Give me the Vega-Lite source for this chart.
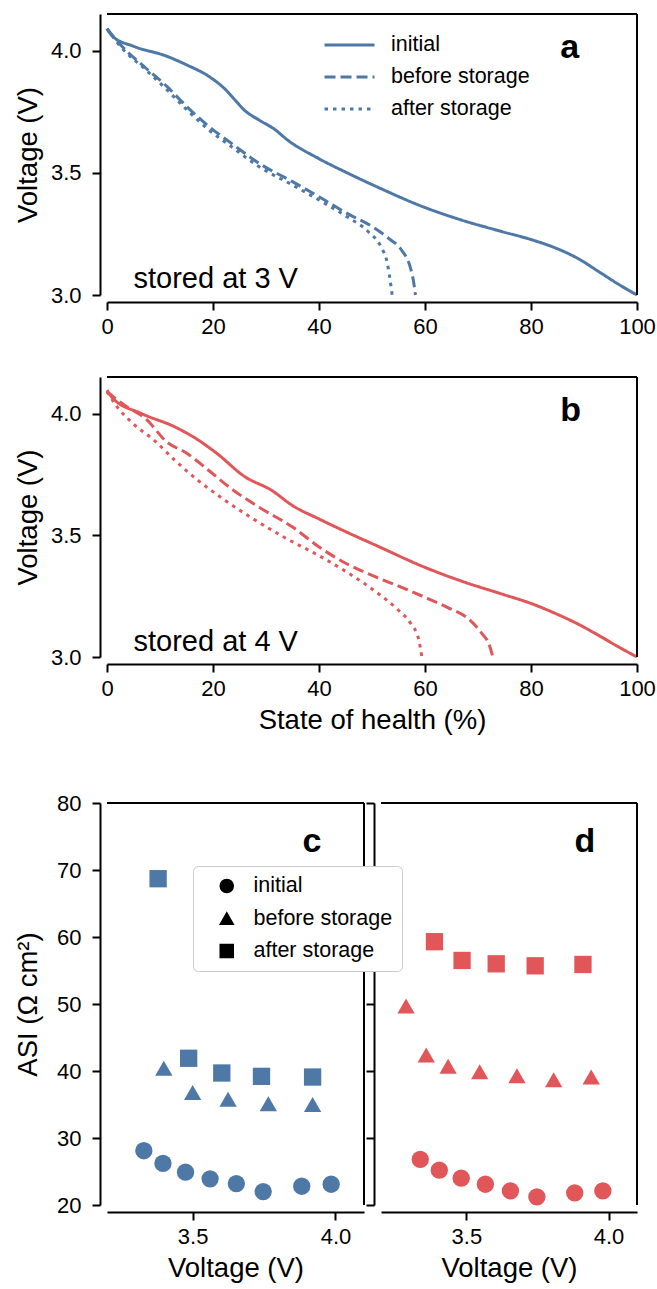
{
  "$schema": "https://vega.github.io/schema/vega-lite/v6.json",
  "padding": {"left": 14, "top": 13, "right": 1, "bottom": 4},
  "config": {
    "font": "Liberation Sans",
    "view": {"stroke": null},
    "axis": {"domainColor": "black", "domainWidth": 2, "tickColor": "black", "tickWidth": 2, "tickSize": 8, "labelFontSize": 22, "labelColor": "black", "labelFlush": false, "labelOverlap": false, "titleFontSize": 27.5, "titleFontWeight": "normal", "titleColor": "black", "grid": false, "offset": 7},
    "axisX": {"labelPadding": 6, "titlePadding": 7},
    "axisY": {"labelPadding": 11, "titlePadding": 8},
    "legend": {"labelFontSize": 21.5, "labelColor": "black", "title": null}
  },
  "datasets": {
    "a": [
      {"soh": 0, "v": 4.09, "cond": "initial"}, {"soh": 1, "v": 4.06, "cond": "initial"}, {"soh": 5, "v": 4.018, "cond": "initial"}, {"soh": 11.3, "v": 3.977, "cond": "initial"}, {"soh": 15.2, "v": 3.94, "cond": "initial"}, {"soh": 19.2, "v": 3.895, "cond": "initial"}, {"soh": 22.3, "v": 3.842, "cond": "initial"}, {"soh": 24.2, "v": 3.797, "cond": "initial"}, {"soh": 26, "v": 3.755, "cond": "initial"}, {"soh": 28.7, "v": 3.716, "cond": "initial"}, {"soh": 31.5, "v": 3.68, "cond": "initial"}, {"soh": 34.2, "v": 3.632, "cond": "initial"}, {"soh": 39.8, "v": 3.56, "cond": "initial"}, {"soh": 45.3, "v": 3.5, "cond": "initial"}, {"soh": 50.9, "v": 3.443, "cond": "initial"}, {"soh": 60, "v": 3.358, "cond": "initial"}, {"soh": 66.7, "v": 3.308, "cond": "initial"}, {"soh": 74.6, "v": 3.259, "cond": "initial"}, {"soh": 80, "v": 3.227, "cond": "initial"}, {"soh": 84.9, "v": 3.19, "cond": "initial"}, {"soh": 88.9, "v": 3.149, "cond": "initial"}, {"soh": 92.9, "v": 3.094, "cond": "initial"}, {"soh": 96.8, "v": 3.04, "cond": "initial"}, {"soh": 100, "v": 3.0, "cond": "initial"},
      {"soh": 0, "v": 4.09, "cond": "before storage"}, {"soh": 2.5, "v": 4.025, "cond": "before storage"}, {"soh": 7.3, "v": 3.929, "cond": "before storage"}, {"soh": 11.3, "v": 3.854, "cond": "before storage"}, {"soh": 14.4, "v": 3.785, "cond": "before storage"}, {"soh": 19.2, "v": 3.69, "cond": "before storage"}, {"soh": 23.9, "v": 3.614, "cond": "before storage"}, {"soh": 28.7, "v": 3.539, "cond": "before storage"}, {"soh": 35, "v": 3.464, "cond": "before storage"}, {"soh": 40, "v": 3.402, "cond": "before storage"}, {"soh": 45.3, "v": 3.334, "cond": "before storage"}, {"soh": 50.1, "v": 3.279, "cond": "before storage"}, {"soh": 53.2, "v": 3.231, "cond": "before storage"}, {"soh": 55.6, "v": 3.183, "cond": "before storage"}, {"soh": 57.2, "v": 3.115, "cond": "before storage"}, {"soh": 57.8, "v": 3.06, "cond": "before storage"}, {"soh": 58.2, "v": 3.0, "cond": "before storage"},
      {"soh": 0, "v": 4.09, "cond": "after storage"}, {"soh": 2.5, "v": 4.018, "cond": "after storage"}, {"soh": 7.3, "v": 3.922, "cond": "after storage"}, {"soh": 11.3, "v": 3.84, "cond": "after storage"}, {"soh": 14.4, "v": 3.772, "cond": "after storage"}, {"soh": 19.2, "v": 3.676, "cond": "after storage"}, {"soh": 23.9, "v": 3.6, "cond": "after storage"}, {"soh": 28.7, "v": 3.525, "cond": "after storage"}, {"soh": 35, "v": 3.45, "cond": "after storage"}, {"soh": 40, "v": 3.389, "cond": "after storage"}, {"soh": 45.3, "v": 3.32, "cond": "after storage"}, {"soh": 49.3, "v": 3.259, "cond": "after storage"}, {"soh": 51.7, "v": 3.197, "cond": "after storage"}, {"soh": 52.9, "v": 3.129, "cond": "after storage"}, {"soh": 53.6, "v": 3.033, "cond": "after storage"}, {"soh": 53.8, "v": 3.0, "cond": "after storage"}
    ],
    "b": [
      {"soh": 0, "v": 4.096, "cond": "initial"}, {"soh": 1, "v": 4.065, "cond": "initial"}, {"soh": 6.5, "v": 4.0, "cond": "initial"}, {"soh": 12.8, "v": 3.945, "cond": "initial"}, {"soh": 16.8, "v": 3.897, "cond": "initial"}, {"soh": 20.8, "v": 3.835, "cond": "initial"}, {"soh": 25.9, "v": 3.742, "cond": "initial"}, {"soh": 31.1, "v": 3.684, "cond": "initial"}, {"soh": 35, "v": 3.622, "cond": "initial"}, {"soh": 40, "v": 3.567, "cond": "initial"}, {"soh": 45.3, "v": 3.512, "cond": "initial"}, {"soh": 50.9, "v": 3.457, "cond": "initial"}, {"soh": 60, "v": 3.368, "cond": "initial"}, {"soh": 66.7, "v": 3.313, "cond": "initial"}, {"soh": 74.6, "v": 3.258, "cond": "initial"}, {"soh": 80, "v": 3.22, "cond": "initial"}, {"soh": 84.9, "v": 3.176, "cond": "initial"}, {"soh": 88.9, "v": 3.135, "cond": "initial"}, {"soh": 92.9, "v": 3.087, "cond": "initial"}, {"soh": 96.8, "v": 3.038, "cond": "initial"}, {"soh": 100, "v": 3.0, "cond": "initial"},
      {"soh": 0, "v": 4.09, "cond": "before storage"}, {"soh": 3.3, "v": 4.034, "cond": "before storage"}, {"soh": 7.3, "v": 3.979, "cond": "before storage"}, {"soh": 11.3, "v": 3.883, "cond": "before storage"}, {"soh": 15.2, "v": 3.835, "cond": "before storage"}, {"soh": 19.2, "v": 3.766, "cond": "before storage"}, {"soh": 23.9, "v": 3.684, "cond": "before storage"}, {"soh": 28.7, "v": 3.615, "cond": "before storage"}, {"soh": 35, "v": 3.534, "cond": "before storage"}, {"soh": 40, "v": 3.452, "cond": "before storage"}, {"soh": 45.3, "v": 3.382, "cond": "before storage"}, {"soh": 50.9, "v": 3.327, "cond": "before storage"}, {"soh": 55.6, "v": 3.286, "cond": "before storage"}, {"soh": 60, "v": 3.245, "cond": "before storage"}, {"soh": 64.3, "v": 3.203, "cond": "before storage"}, {"soh": 68.3, "v": 3.155, "cond": "before storage"}, {"soh": 70.6, "v": 3.1, "cond": "before storage"}, {"soh": 72.2, "v": 3.045, "cond": "before storage"}, {"soh": 72.8, "v": 3.0, "cond": "before storage"},
      {"soh": 0, "v": 4.09, "cond": "after storage"}, {"soh": 1.7, "v": 4.034, "cond": "after storage"}, {"soh": 4.9, "v": 3.959, "cond": "after storage"}, {"soh": 8.9, "v": 3.89, "cond": "after storage"}, {"soh": 12.8, "v": 3.808, "cond": "after storage"}, {"soh": 17.6, "v": 3.718, "cond": "after storage"}, {"soh": 22.3, "v": 3.643, "cond": "after storage"}, {"soh": 27.1, "v": 3.574, "cond": "after storage"}, {"soh": 33.4, "v": 3.492, "cond": "after storage"}, {"soh": 40, "v": 3.416, "cond": "after storage"}, {"soh": 45.3, "v": 3.348, "cond": "after storage"}, {"soh": 50.9, "v": 3.265, "cond": "after storage"}, {"soh": 54.8, "v": 3.196, "cond": "after storage"}, {"soh": 57.2, "v": 3.141, "cond": "after storage"}, {"soh": 58.8, "v": 3.073, "cond": "after storage"}, {"soh": 59.4, "v": 3.0, "cond": "after storage"}
    ],
    "c": [
      {"volt": 3.329, "asi": 28.1, "cond": "initial"}, {"volt": 3.396, "asi": 26.2, "cond": "initial"}, {"volt": 3.475, "asi": 24.9, "cond": "initial"}, {"volt": 3.561, "asi": 23.9, "cond": "initial"}, {"volt": 3.653, "asi": 23.2, "cond": "initial"}, {"volt": 3.747, "asi": 22.0, "cond": "initial"}, {"volt": 3.882, "asi": 22.8, "cond": "initial"}, {"volt": 3.985, "asi": 23.1, "cond": "initial"},
      {"volt": 3.399, "asi": 40.4, "cond": "before storage"}, {"volt": 3.5, "asi": 36.8, "cond": "before storage"}, {"volt": 3.624, "asi": 35.8, "cond": "before storage"}, {"volt": 3.765, "asi": 35.1, "cond": "before storage"}, {"volt": 3.92, "asi": 35.0, "cond": "before storage"},
      {"volt": 3.379, "asi": 68.7, "cond": "after storage"}, {"volt": 3.486, "asi": 41.9, "cond": "after storage"}, {"volt": 3.602, "asi": 39.7, "cond": "after storage"}, {"volt": 3.741, "asi": 39.2, "cond": "after storage"}, {"volt": 3.92, "asi": 39.1, "cond": "after storage"}
    ],
    "d": [
      {"volt": 3.338, "asi": 26.8, "cond": "initial"}, {"volt": 3.405, "asi": 25.2, "cond": "initial"}, {"volt": 3.482, "asi": 24.0, "cond": "initial"}, {"volt": 3.567, "asi": 23.1, "cond": "initial"}, {"volt": 3.655, "asi": 22.1, "cond": "initial"}, {"volt": 3.748, "asi": 21.2, "cond": "initial"}, {"volt": 3.881, "asi": 21.8, "cond": "initial"}, {"volt": 3.98, "asi": 22.1, "cond": "initial"},
      {"volt": 3.288, "asi": 49.7, "cond": "before storage"}, {"volt": 3.359, "asi": 42.4, "cond": "before storage"}, {"volt": 3.436, "asi": 40.7, "cond": "before storage"}, {"volt": 3.547, "asi": 39.9, "cond": "before storage"}, {"volt": 3.678, "asi": 39.3, "cond": "before storage"}, {"volt": 3.807, "asi": 38.7, "cond": "before storage"}, {"volt": 3.939, "asi": 39.1, "cond": "before storage"},
      {"volt": 3.388, "asi": 59.3, "cond": "after storage"}, {"volt": 3.485, "asi": 56.5, "cond": "after storage"}, {"volt": 3.605, "asi": 56.0, "cond": "after storage"}, {"volt": 3.742, "asi": 55.7, "cond": "after storage"}, {"volt": 3.91, "asi": 55.9, "cond": "after storage"}
    ]
  },
  "spacing": 58,
  "vconcat": [
    {
      "spacing": 39,
      "resolve": {"legend": {"strokeDash": "independent"}},
      "vconcat": [
        {
          "width": 530, "height": 281,
          "layer": [
            {
              "data": {"name": "a"},
              "mark": {"type": "line", "color": "#4e79a7", "strokeWidth": 3, "interpolate": "monotone"},
              "encoding": {
                "x": {"field": "soh", "type": "quantitative", "scale": {"domain": [0, 100], "nice": false}, "axis": {"values": [0, 20, 40, 60, 80, 100], "title": null}},
                "y": {"field": "v", "type": "quantitative", "scale": {"domain": [3.0, 4.15], "nice": false, "zero": false}, "axis": {"values": [3.0, 3.5, 4.0], "format": ".1f", "title": "Voltage (V)", "minExtent": 50, "maxExtent": 50}},
                "strokeDash": {"field": "cond", "type": "nominal", "scale": {"domain": ["initial", "before storage", "after storage"], "range": [[1, 0], [11, 5], [3.5, 5]]},
                  "legend": {"orient": "none", "legendX": 216, "legendY": 20, "symbolType": "stroke", "symbolSize": 2500, "symbolStrokeWidth": 3, "labelOffset": 15, "clipHeight": 22, "rowPadding": 10, "padding": 0}}
              }
            },
            {"data": {"values": [{}]}, "mark": {"type": "rule", "color": "black", "strokeWidth": 2}, "encoding": {"y": {"datum": 4.15}}},
            {"data": {"values": [{}]}, "mark": {"type": "rule", "color": "black", "strokeWidth": 2}, "encoding": {"x": {"datum": 100}}},
            {"data": {"values": [{}]}, "mark": {"type": "text", "text": "a", "fontSize": 34, "fontWeight": "bold", "align": "center", "baseline": "alphabetic"}, "encoding": {"x": {"datum": 87.3}, "y": {"datum": 3.97}}},
            {"data": {"values": [{}]}, "mark": {"type": "text", "text": "stored at 3 V", "fontSize": 29, "align": "left", "baseline": "alphabetic"}, "encoding": {"x": {"datum": 5}, "y": {"datum": 3.028}}}
          ]
        },
        {
          "width": 530, "height": 280,
          "layer": [
            {
              "data": {"name": "b"},
              "mark": {"type": "line", "color": "#e15759", "strokeWidth": 3, "interpolate": "monotone"},
              "encoding": {
                "x": {"field": "soh", "type": "quantitative", "scale": {"domain": [0, 100], "nice": false}, "axis": {"values": [0, 20, 40, 60, 80, 100], "title": "State of health (%)"}},
                "y": {"field": "v", "type": "quantitative", "scale": {"domain": [3.0, 4.15], "nice": false, "zero": false}, "axis": {"values": [3.0, 3.5, 4.0], "format": ".1f", "title": "Voltage (V)", "minExtent": 50, "maxExtent": 50}},
                "strokeDash": {"field": "cond", "type": "nominal", "scale": {"domain": ["initial", "before storage", "after storage"], "range": [[1, 0], [11, 5], [3.5, 5]]}, "legend": null}
              }
            },
            {"data": {"values": [{}]}, "mark": {"type": "rule", "color": "black", "strokeWidth": 2}, "encoding": {"y": {"datum": 4.15}}},
            {"data": {"values": [{}]}, "mark": {"type": "rule", "color": "black", "strokeWidth": 2}, "encoding": {"x": {"datum": 100}}},
            {"data": {"values": [{}]}, "mark": {"type": "text", "text": "b", "fontSize": 34, "fontWeight": "bold", "align": "center", "baseline": "alphabetic"}, "encoding": {"x": {"datum": 87.5}, "y": {"datum": 3.97}}},
            {"data": {"values": [{}]}, "mark": {"type": "text", "text": "stored at 4 V", "fontSize": 29, "align": "left", "baseline": "alphabetic"}, "encoding": {"x": {"datum": 5}, "y": {"datum": 3.025}}}
          ]
        }
      ]
    },
    {
      "bounds": "flush",
      "spacing": 17,
      "resolve": {"scale": {"color": "independent"}},
      "hconcat": [
        {
          "width": 257, "height": 402,
          "layer": [
            {
              "data": {"name": "c"},
              "mark": {"type": "point", "filled": true, "opacity": 1, "size": 300},
              "encoding": {
                "x": {"field": "volt", "type": "quantitative", "scale": {"domain": [3.2, 4.1], "nice": false, "zero": false}, "axis": {"values": [3.5, 4.0], "format": ".1f", "title": "Voltage (V)"}},
                "y": {"field": "asi", "type": "quantitative", "scale": {"domain": [20, 80], "nice": false, "zero": false}, "axis": {"values": [20, 30, 40, 50, 60, 70, 80], "title": "ASI (Ω cm²)", "minExtent": 50, "maxExtent": 50}},
                "color": {"field": "cond", "type": "nominal", "scale": {"domain": ["initial", "before storage", "after storage"], "range": ["#4e79a7", "#4e79a7", "#4e79a7"]}, "legend": null},
                "shape": {"field": "cond", "type": "nominal", "scale": {"domain": ["initial", "before storage", "after storage"], "range": ["circle", "triangle-up", "square"]},
                  "legend": {"orient": "none", "legendX": 86, "legendY": 852, "symbolSize": 170, "symbolFillColor": "black", "symbolStrokeColor": "black", "symbolOffset": 14, "labelOffset": 16, "clipHeight": 22, "rowPadding": 10.5, "padding": 9, "fillColor": "white", "strokeColor": "#cccccc", "cornerRadius": 5}}
              }
            },
            {"data": {"values": [{}]}, "mark": {"type": "rule", "color": "black", "strokeWidth": 2}, "encoding": {"y": {"datum": 80}}},
            {"data": {"values": [{}]}, "mark": {"type": "rule", "color": "black", "strokeWidth": 2}, "encoding": {"x": {"datum": 4.1}}},
            {"data": {"values": [{}]}, "mark": {"type": "text", "text": "c", "fontSize": 34, "fontWeight": "bold", "align": "center", "baseline": "alphabetic"}, "encoding": {"x": {"datum": 3.918}, "y": {"datum": 72.7}}}
          ]
        },
        {
          "width": 256, "height": 402,
          "layer": [
            {
              "data": {"name": "d"},
              "mark": {"type": "point", "filled": true, "opacity": 1, "size": 300},
              "encoding": {
                "x": {"field": "volt", "type": "quantitative", "scale": {"domain": [3.2, 4.1], "nice": false, "zero": false}, "axis": {"values": [3.5, 4.0], "format": ".1f", "title": "Voltage (V)"}},
                "y": {"field": "asi", "type": "quantitative", "scale": {"domain": [20, 80], "nice": false, "zero": false}, "axis": {"values": [20, 30, 40, 50, 60, 70, 80], "labels": false, "title": null, "minExtent": 0}},
                "color": {"field": "cond", "type": "nominal", "scale": {"domain": ["initial", "before storage", "after storage"], "range": ["#e15759", "#e15759", "#e15759"]}, "legend": null},
                "shape": {"field": "cond", "type": "nominal", "scale": {"domain": ["initial", "before storage", "after storage"], "range": ["circle", "triangle-up", "square"]},
                  "legend": {"orient": "none", "legendX": 86, "legendY": 852, "symbolSize": 170, "symbolFillColor": "black", "symbolStrokeColor": "black", "symbolOffset": 14, "labelOffset": 16, "clipHeight": 22, "rowPadding": 10.5, "padding": 9, "fillColor": "white", "strokeColor": "#cccccc", "cornerRadius": 5}}
              }
            },
            {"data": {"values": [{}]}, "mark": {"type": "rule", "color": "black", "strokeWidth": 2}, "encoding": {"y": {"datum": 80}}},
            {"data": {"values": [{}]}, "mark": {"type": "rule", "color": "black", "strokeWidth": 2}, "encoding": {"x": {"datum": 4.1}}},
            {"data": {"values": [{}]}, "mark": {"type": "text", "text": "d", "fontSize": 34, "fontWeight": "bold", "align": "center", "baseline": "alphabetic"}, "encoding": {"x": {"datum": 3.917}, "y": {"datum": 72.7}}}
          ]
        }
      ]
    }
  ]
}
